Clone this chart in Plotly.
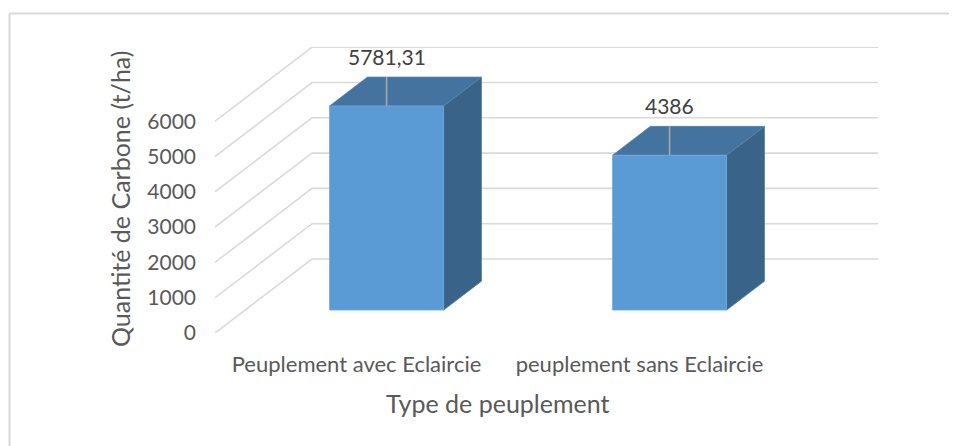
import plotly.graph_objects as go

# ---- data ----
categories = ["Peuplement avec Eclaircie", "peuplement sans Eclaircie"]
values = [5781.31, 4386]
value_labels = ["5781,31", "4386"]
y_ticks = [0, 1000, 2000, 3000, 4000, 5000, 6000]
x_title = "Type de peuplement"
y_title = "Quantité de Carbone (t/ha)"

# ---- geometry (oblique 3D projection) ----
OFF = 8  # page body margin
W, H = 957, 446
PLOT_X0, PLOT_X1 = 215 - OFF, 878 - OFF
PLOT_Y0, PLOT_Y1 = 47 - OFF, 333 - OFF
L, R, T, B = PLOT_X0, W - PLOT_X1, PLOT_Y0, H - PLOT_Y1
PX_CAT = 283.0          # pixels per category on front plane
PX_VAL = 35.3 / 1000.0  # pixels per value unit
DEPTH_PX = (97.0, 74.0)
DU = DEPTH_PX[0] / PX_CAT
DV = DEPTH_PX[1] / PX_VAL
T0, T1 = 0.31, 0.70
HW = 0.2015
plot_w = PLOT_X1 - PLOT_X0
plot_h = PLOT_Y1 - PLOT_Y0
xrange = [0, plot_w / PX_CAT]
yrange = [0, plot_h / PX_VAL]

FONT = "Lato"
GRID = "#D9D9D9"

fig = go.Figure()

# walls gridlines
gx, gy = [], []
for v in y_ticks:
    gx += [0, DU, len(categories) + DU, None]
    gy += [v, v + DV, v + DV, None]
fig.add_trace(go.Scatter(x=gx, y=gy, mode="lines",
                         line=dict(color=GRID, width=1.6),
                         hoverinfo="skip", showlegend=False))

dd_u = (T1 - T0) * DU
dd_v = (T1 - T0) * DV
for i, (cat, val) in enumerate(zip(categories, values)):
    c = i + 0.5
    x0 = c - HW + T0 * DU
    x1 = c + HW + T0 * DU
    y0 = T0 * DV
    y1 = val + T0 * DV
    # side face
    fig.add_trace(go.Scatter(
        x=[x1, x1, x1 + dd_u, x1 + dd_u, x1], y=[y0, y1, y1 + dd_v, y0 + dd_v, y0],
        fill="toself", fillcolor="#3A6389", mode="lines",
        line=dict(color="#4A77A0", width=0.8), hoverinfo="skip", showlegend=False))
    # top face
    fig.add_trace(go.Scatter(
        x=[x0, x1, x1 + dd_u, x0 + dd_u, x0], y=[y1, y1, y1 + dd_v, y1 + dd_v, y1],
        fill="toself", fillcolor="#44739F", mode="lines",
        line=dict(color="#5384B0", width=0.8), hoverinfo="skip", showlegend=False))
    # front face
    fig.add_trace(go.Scatter(
        x=[x0, x1, x1, x0, x0], y=[y0, y0, y1, y1, y0],
        fill="toself", fillcolor="#5B9BD5", mode="lines",
        line=dict(color="#70A9DC", width=0.8), name=cat, showlegend=False))
    # leader line
    cx = c + T0 * DU
    fig.add_trace(go.Scatter(
        x=[cx, cx], y=[y1, y1 + dd_v],
        mode="lines", line=dict(color="#A6A6A6", width=1.6),
        hoverinfo="skip", showlegend=False))
    fig.add_annotation(x=cx, y=val + T1 * DV, text=value_labels[i],
                       showarrow=False, yanchor="bottom", yshift=6,
                       font=dict(family=FONT, size=21, color="#404040"))

# axis titles (positions given in screen pixels)
def px_to_paper(px, py):
    return (px - OFF - PLOT_X0) / plot_w, (PLOT_Y1 - (py - OFF)) / plot_h

ax, ay = px_to_paper(498, 403)
fig.add_annotation(x=ax, y=ay, xref="paper", yref="paper", text=x_title,
                   xanchor="center", yanchor="middle",
                   showarrow=False, font=dict(family=FONT, size=25, color="#595959"))
ax, ay = px_to_paper(120, 199)
fig.add_annotation(x=ax, y=ay, xref="paper", yref="paper", text=y_title,
                   xanchor="center", yanchor="middle",
                   showarrow=False, textangle=-90,
                   font=dict(family=FONT, size=25, color="#595959"))

# chart frame (top and left edges visible)
fx0, fy0 = px_to_paper(9.5, 13.5)
fx1, _ = px_to_paper(970, 13.5)
_, fy1 = px_to_paper(9.5, 460)
fig.add_shape(type="line", xref="paper", yref="paper", x0=fx0, y0=fy0, x1=fx1, y1=fy0,
              line=dict(color="#D9D9D9", width=2))
fig.add_shape(type="line", xref="paper", yref="paper", x0=fx0, y0=fy0, x1=fx0, y1=fy1,
              line=dict(color="#D9D9D9", width=2))

fig.update_layout(
    width=W, height=H,
    margin=dict(l=L, r=R, t=T, b=B, pad=0),
    paper_bgcolor="white", plot_bgcolor="white",
    xaxis=dict(range=xrange, tickvals=[i + 0.5 for i in range(len(categories))],
               ticktext=categories, showgrid=False, zeroline=False, showline=False,
               ticks="", ticklabelstandoff=16,
               tickfont=dict(family=FONT, size=22, color="#595959"), fixedrange=True),
    yaxis=dict(range=yrange, tickvals=y_ticks, ticktext=[str(v) for v in y_ticks],
               showgrid=False, zeroline=False, showline=False, ticks="",
               ticklabelstandoff=18,
               tickfont=dict(family=FONT, size=21, color="#595959"), fixedrange=True),
)

fig.write_html("out.html")
